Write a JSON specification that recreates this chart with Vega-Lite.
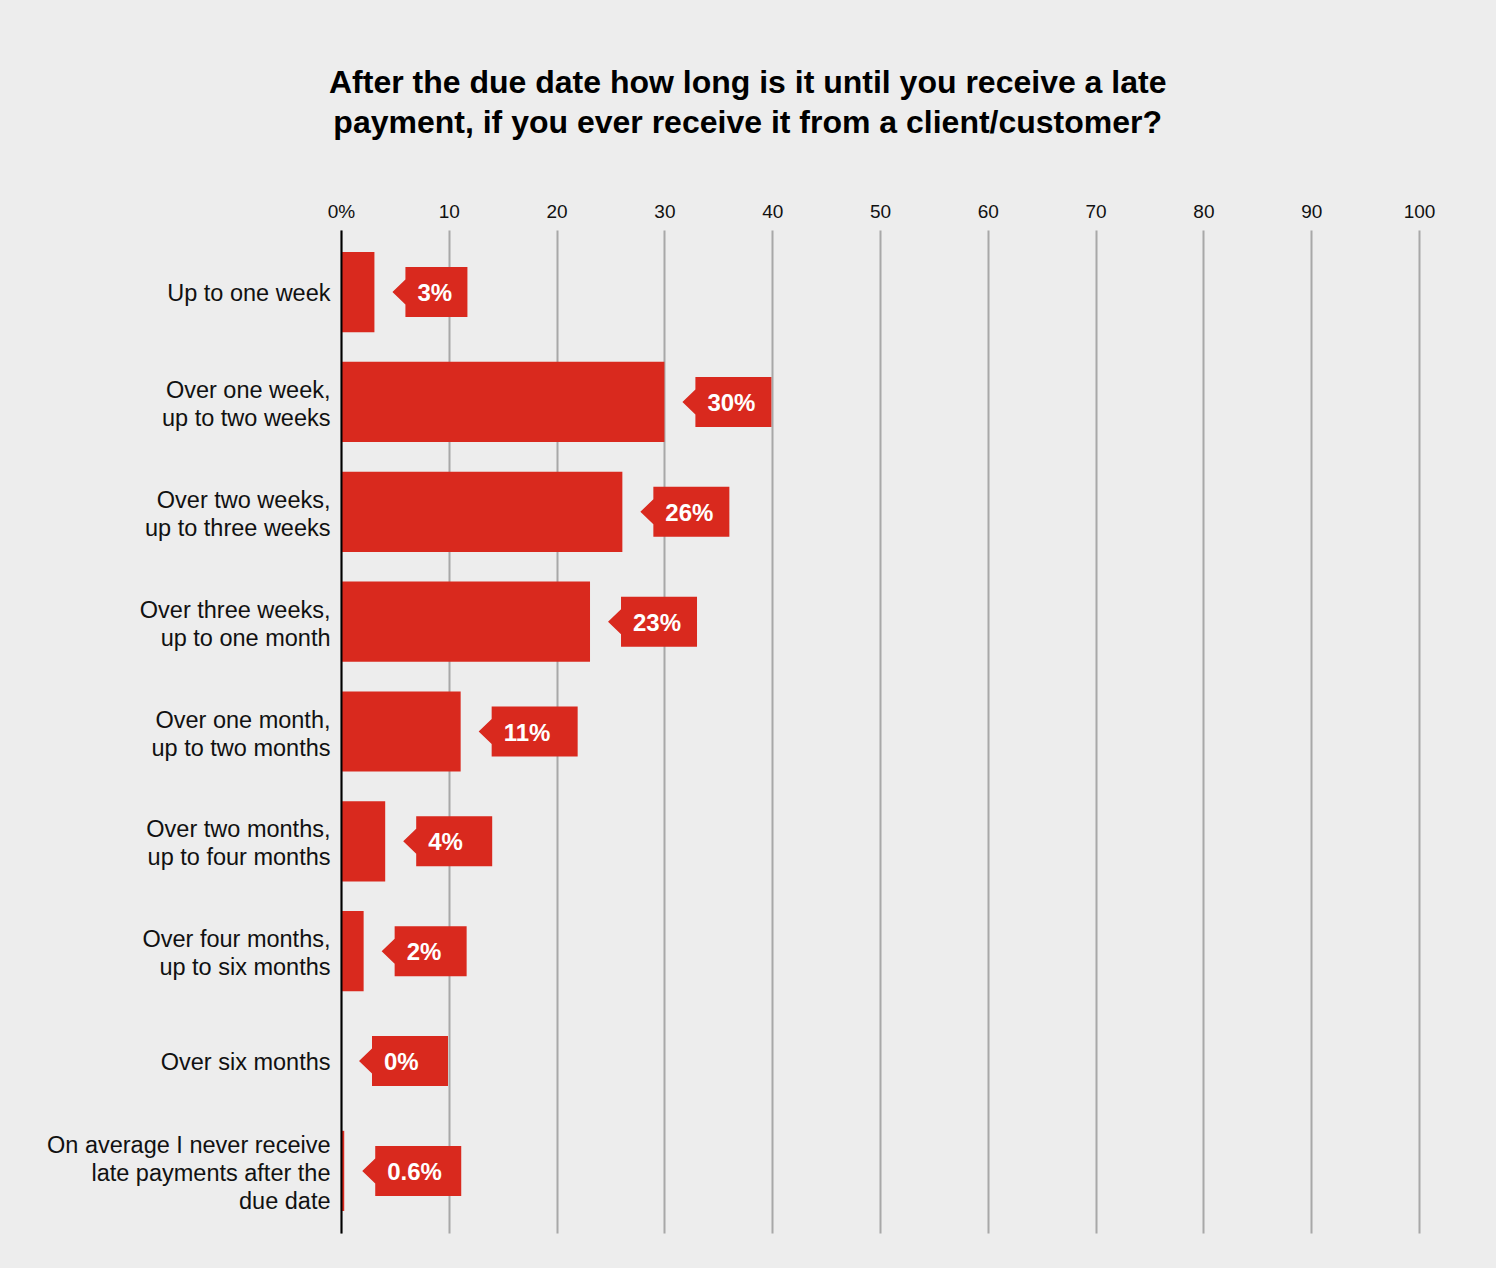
{
  "$schema": "https://vega.github.io/schema/vega-lite/v6.json",
  "autosize": "none",
  "width": 1078,
  "height": 1003,
  "padding": {"left": 341, "top": 230, "right": 77, "bottom": 35},
  "background": "#ededed",
  "config": {
    "view": {"stroke": null},
    "font": "Liberation Sans"
  },
  "title": {
    "text": ["After the due date how long is it until you receive a late", "payment, if you ever receive it from a client/customer?"],
    "fontSize": 32,
    "fontWeight": "bold",
    "lineHeight": 40,
    "color": "#000000",
    "anchor": "middle",
    "frame": "bounds",
    "dx": 7,
    "offset": 62
  },
  "data": {
    "values": [
      {"category": "Up to one week", "value": 3.1, "label": "3%"},
      {"category": "Over one week,\nup to two weeks", "value": 30.0, "label": "30%"},
      {"category": "Over two weeks,\nup to three weeks", "value": 26.1, "label": "26%"},
      {"category": "Over three weeks,\nup to one month", "value": 23.1, "label": "23%"},
      {"category": "Over one month,\nup to two months", "value": 11.1, "label": "11%"},
      {"category": "Over two months,\nup to four months", "value": 4.1, "label": "4%"},
      {"category": "Over four months,\nup to six months", "value": 2.1, "label": "2%"},
      {"category": "Over six months", "value": 0, "label": "0%"},
      {"category": "On average I never receive\nlate payments after the\ndue date", "value": 0.3, "label": "0.6%"}
    ]
  },
  "encoding": {
    "y": {
      "field": "category",
      "type": "nominal",
      "sort": null,
      "title": null,
      "scale": {"paddingInner": 0.27, "paddingOuter": 0.2},
      "axis": {
        "orient": "left",
        "domain": true,
        "domainColor": "#000000",
        "domainWidth": 2,
        "ticks": false,
        "labelPadding": 11,
        "labelFontSize": 23.5,
        "labelColor": "#111111",
        "labelLineHeight": 28,
        "labelLimit": 400,
        "labelExpr": "split(datum.value, '\\n')",
        "labelOffset": {
          "condition": [
            {"test": "length(split(datum.value, '\\n')) == 3", "value": -25},
            {"test": "length(split(datum.value, '\\n')) == 2", "value": -11}
          ],
          "value": 2
        },
        "zindex": 1
      }
    }
  },
  "layer": [
    {
      "mark": {"type": "bar", "color": "#d9291e"},
      "encoding": {
        "x": {
          "field": "value",
          "type": "quantitative",
          "title": null,
          "scale": {"domain": [0, 100], "nice": false},
          "axis": {
            "orient": "top",
            "values": [0, 10, 20, 30, 40, 50, 60, 70, 80, 90, 100],
            "domain": false,
            "ticks": false,
            "grid": true,
            "gridColor": "#a8a8a8",
            "gridWidth": 2,
            "labelFontSize": 19,
            "labelColor": "#111111",
            "labelPadding": 9,
            "labelFlush": false,
            "labelExpr": "datum.value == 0 ? '0%' : datum.label"
          }
        }
      }
    },
    {
      "mark": {"type": "point", "filled": true, "size": 4, "opacity": 1, "strokeWidth": 0, "color": "#d9291e"},
      "encoding": {
        "x": {"field": "value", "type": "quantitative"},
        "shape": {
          "field": "label",
          "type": "nominal",
          "legend": null,
          "scale": {
            "domain": ["3%", "30%", "26%", "23%", "11%", "4%", "2%", "0%", "0.6%"],
            "range": [
              "M18,0L31,-12.5L31,-25L93,-25L93,25L31,25L31,12.5Z",
              "M18,0L31,-12.5L31,-25L107,-25L107,25L31,25L31,12.5Z",
              "M18,0L31,-12.5L31,-25L107,-25L107,25L31,25L31,12.5Z",
              "M18,0L31,-12.5L31,-25L107,-25L107,25L31,25L31,12.5Z",
              "M18,0L31,-12.5L31,-25L117,-25L117,25L31,25L31,12.5Z",
              "M18,0L31,-12.5L31,-25L107,-25L107,25L31,25L31,12.5Z",
              "M18,0L31,-12.5L31,-25L103,-25L103,25L31,25L31,12.5Z",
              "M18,0L31,-12.5L31,-25L107,-25L107,25L31,25L31,12.5Z",
              "M18,0L31,-12.5L31,-25L117,-25L117,25L31,25L31,12.5Z"
            ]
          }
        }
      }
    },
    {
      "mark": {"type": "text", "align": "left", "baseline": "middle", "dx": 43, "dy": 2, "fontSize": 24, "fontWeight": "bold", "color": "#ffffff"},
      "encoding": {
        "x": {"field": "value", "type": "quantitative"},
        "text": {"field": "label"}
      }
    }
  ]
}
